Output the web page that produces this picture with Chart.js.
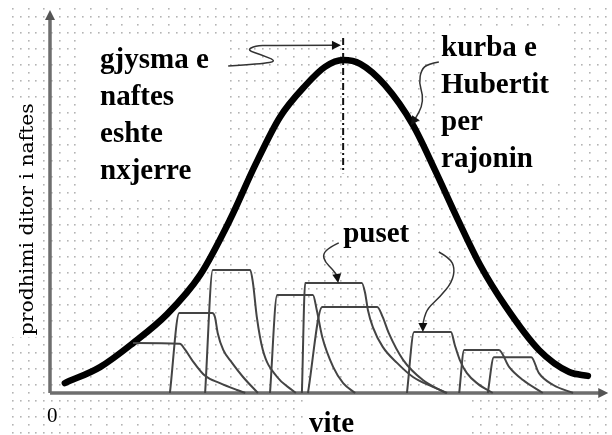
<!DOCTYPE html>
<html><head><meta charset="utf-8">
<script src="https://cdn.jsdelivr.net/npm/chart.js@4"></script>
<style>html,body{margin:0;padding:0;background:#fff}canvas{display:block}</style>
</head><body><canvas id="c" width="612" height="435"></canvas>
<script>
// ---- Data (x = years, arbitrary units 0..100; y = daily production, 0..100) ----
const hubX = [2.7, 9.1, 15.1, 21.3, 27.3, 32.7, 37.3, 41.8, 46.5, 50.0, 53.3, 56.4, 60.9, 66.0, 70.0, 74.2, 78.2, 82.9, 88.9, 94.4, 97.8];
const hubY = [2.6, 6.8, 13.1, 20.7, 31.0, 45.4, 59.8, 72.4, 80.8, 85.6, 87.4, 86.4, 80.8, 70.3, 58.5, 45.4, 33.6, 22.6, 11.3, 5.5, 4.5];

const well1X = [15.1, 23.6, 24.5, 25.8, 28.2, 30.9, 34.0, 35.5];
const well1Y = [13.1, 12.9, 11.5, 8.7, 4.5, 2.6, 0.8, 0];
const well2X = [21.8, 23.5, 29.5, 30.0, 30.5, 31.5, 33.1, 35.1, 37.8];
const well2Y = [0, 21.0, 21.0, 19.9, 15.7, 11.3, 7.9, 4.2, 0];
const well3X = [28.2, 29.6, 36.4, 36.9, 37.6, 38.7, 41.3, 44.0, 44.7];
const well3Y = [0, 32.3, 32.3, 28.9, 20.0, 11.3, 4.2, 0.8, 0];
const well4X = [40.0, 41.3, 47.8, 48.5, 49.5, 51.5, 53.3, 55.5];
const well4Y = [0, 25.7, 25.7, 21.8, 14.7, 6.8, 2.6, 0];
const well5X = [45.8, 46.4, 56.7, 57.3, 57.8, 58.7, 60.5, 63.1, 66.0, 69.6, 72.2];
const well5Y = [0, 28.9, 28.9, 26.2, 21.8, 17.3, 12.1, 7.9, 4.2, 1.6, 0];
const well6X = [46.9, 49.5, 59.5, 60.5, 61.6, 64.2, 67.8, 72.0];
const well6Y = [0, 22.6, 22.6, 19.9, 15.7, 8.7, 3.4, 0];
const well7X = [64.9, 66.2, 72.9, 73.6, 74.5, 75.8, 77.8, 80.5];
const well7Y = [0, 16.0, 16.0, 12.6, 8.7, 5.2, 2.4, 0];
const well8X = [74.4, 75.3, 81.6, 83.5, 86.0, 89.6];
const well8Y = [0, 11.3, 11.3, 6.8, 3.4, 0];
const well9X = [79.6, 80.7, 87.5, 88.9, 91.5, 95.1];
const well9Y = [0, 9.4, 9.4, 5.2, 2.1, 0];

// Labels
const yAxisTitle = "prodhimi ditor i naftes";
const xAxisTitle = "vite";
const originTick = "0";
const halfText = ["gjysma e", "naftes", "eshte", "nxjerre"];
const hubbertText = ["kurba e", "Hubertit", "per", "rajonin"];
const wellsText = ["puset"];

// Annotation paths (data coordinates)
const arrowHalfX = [32.4, 38.5, 41.3, 38.5, 35.8, 37.3, 40.0, 52.9];
const arrowHalfY = [85.8, 86.4, 87.1, 88.7, 90.0, 91.1, 91.3, 91.3];
const arrowHubX = [70.7, 68.7, 67.5, 67.1, 67.8, 67.6, 66.5, 65.6];
const arrowHubY = [86.9, 86.4, 84.8, 81.4, 78.2, 75.1, 72.2, 70.3];
const arrowWellAX = [52.5, 50.9, 49.6, 50.0, 51.5, 52.2, 52.4];
const arrowWellAY = [39.4, 38.3, 36.5, 34.4, 32.3, 30.7, 28.9];
const arrowWellBX = [70.7, 72.7, 73.6, 73.1, 70.9, 68.7, 68.0, 67.8, 67.8];
const arrowWellBY = [37.0, 35.4, 32.8, 29.1, 25.2, 22.3, 19.7, 17.8, 16.0];
const peakMarkX = 53.3, peakMarkTop = 93.2, peakMarkBottom = 57.7;
const axisTipX = 101.5, axisTipY = 100.5;

const pts = (xs, ys) => xs.map((x, i) => ({x, y: ys[i]}));
const wells = [[well1X,well1Y],[well2X,well2Y],[well3X,well3Y],[well4X,well4Y],[well5X,well5Y],[well6X,well6Y],[well7X,well7Y],[well8X,well8Y],[well9X,well9Y]];

const datasets = wells.map(([xs, ys], i) => ({
  label: 'pusi ' + (i + 1), data: pts(xs, ys),
  borderColor: '#444', borderWidth: 2, pointRadius: 0,
  cubicInterpolationMode: 'monotone', clip: false, fill: false
}));
datasets.push({
  label: 'kurba e Hubertit', data: pts(hubX, hubY),
  borderColor: '#000', borderWidth: 6.5, pointRadius: 0, borderCapStyle: 'round',
  cubicInterpolationMode: 'monotone', clip: false, fill: false
});

const SERIF = '"Liberation Serif", "Times New Roman", serif';

function smoothPath(ctx, p) {
  ctx.beginPath();
  ctx.moveTo(p[0][0], p[0][1]);
  for (let i = 1; i < p.length - 2; i++) {
    const mx = (p[i][0] + p[i+1][0]) / 2, my = (p[i][1] + p[i+1][1]) / 2;
    ctx.quadraticCurveTo(p[i][0], p[i][1], mx, my);
  }
  const n = p.length;
  if (n > 2) ctx.quadraticCurveTo(p[n-2][0], p[n-2][1], p[n-1][0], p[n-1][1]);
  else ctx.lineTo(p[n-1][0], p[n-1][1]);
  ctx.stroke();
}
function arrowHead(ctx, from, tip, len, half) {
  const a = Math.atan2(tip[1] - from[1], tip[0] - from[0]);
  ctx.beginPath();
  ctx.moveTo(tip[0], tip[1]);
  ctx.lineTo(tip[0] - len*Math.cos(a) + half*Math.sin(a), tip[1] - len*Math.sin(a) - half*Math.cos(a));
  ctx.lineTo(tip[0] - len*Math.cos(a) - half*Math.sin(a), tip[1] - len*Math.sin(a) + half*Math.cos(a));
  ctx.closePath();
  ctx.fill();
}

const deco = {
  id: 'deco',
  beforeDraw(chart) {
    const ctx = chart.ctx, W = chart.width, H = chart.height;
    ctx.save();
    ctx.fillStyle = '#fff'; ctx.fillRect(0, 0, W, H);
    // dotted background grid
    ctx.fillStyle = '#b4b4b4';
    for (let k = 0; 7.5 + 8*k < H; k++) {
      const y = 7.5 + 8*k, step = (k % 2) ? 7.8 : 15.6;
      for (let x = 12; x < W; x += step) ctx.fillRect(Math.round(x), Math.round(y), 1.6, 1.6);
    }
    // text box backgrounds
    ctx.fillStyle = '#fff';
    [[80,40,147,155],[437,32,131,148],[340,222,75,28],[306,400,162,35],[5,100,35,237]].forEach(r => ctx.fillRect(...r));
    ctx.restore();
  },
  beforeDatasetsDraw(chart) {
    const ctx = chart.ctx, xs = chart.scales.x, ys = chart.scales.y;
    const x0 = xs.getPixelForValue(0), y0 = ys.getPixelForValue(0);
    const yt = ys.getPixelForValue(axisTipY), xt = xs.getPixelForValue(axisTipX);
    ctx.save();
    ctx.strokeStyle = '#6e6e6e'; ctx.fillStyle = '#555'; ctx.lineWidth = 3.5;
    ctx.beginPath(); ctx.moveTo(x0, y0); ctx.lineTo(x0, yt + 8); ctx.stroke();
    ctx.beginPath(); ctx.moveTo(x0, y0); ctx.lineTo(xt - 8, y0); ctx.stroke();
    arrowHead(ctx, [x0, y0], [x0, yt], 10, 5);
    arrowHead(ctx, [x0, y0], [xt, y0], 10, 5);
    ctx.restore();
  },
  afterDraw(chart) {
    const ctx = chart.ctx, xs = chart.scales.x, ys = chart.scales.y;
    const P = (x, y) => [xs.getPixelForValue(x), ys.getPixelForValue(y)];
    ctx.save();
    // dash-dot line at the peak
    ctx.strokeStyle = '#111'; ctx.lineWidth = 2; ctx.setLineDash([7, 3, 2, 3]);
    const a = P(peakMarkX, peakMarkTop), b = P(peakMarkX, peakMarkBottom);
    ctx.beginPath(); ctx.moveTo(a[0], a[1]); ctx.lineTo(b[0], b[1]); ctx.stroke();
    ctx.setLineDash([]);
    // arrows
    ctx.strokeStyle = '#333'; ctx.fillStyle = '#111'; ctx.lineWidth = 1.5; ctx.lineJoin = 'round';
    [[arrowHalfX, arrowHalfY], [arrowHubX, arrowHubY], [arrowWellAX, arrowWellAY], [arrowWellBX, arrowWellBY]].forEach(([ax, ay]) => {
      const p = ax.map((x, i) => P(x, ay[i]));
      const n = p.length, tip = p[n-1], prev = p[n-2];
      const ang = Math.atan2(tip[1] - prev[1], tip[0] - prev[0]);
      const body = p.slice(0, -1).concat([[tip[0] - 7*Math.cos(ang), tip[1] - 7*Math.sin(ang)]]);
      smoothPath(ctx, body);
      arrowHead(ctx, prev, tip, 9, 4.5);
    });
    // texts
    ctx.fillStyle = '#000'; ctx.textBaseline = 'alphabetic'; ctx.textAlign = 'left';
    ctx.font = 'bold 29px ' + SERIF;
    const drawBlock = (lines, x, y) => {
      const p = P(x, y);
      lines.forEach((t, i) => ctx.fillText(t, p[0], p[1] + i * 37));
    };
    drawBlock(halfText, 9.1, 85.3);
    drawBlock(hubbertText, 71.1, 88.5);
    drawBlock(wellsText, 53.3, 39.6);
    drawBlock([xAxisTitle], 47.1, -10.2);
    ctx.font = '21px ' + SERIF; ctx.textAlign = 'center';
    const o = P(0.4, -7.6); ctx.fillText(originTick, o[0], o[1]);
    // y axis title
    ctx.font = '19px "DejaVu Serif", serif';
    const w = ctx.measureText(yAxisTitle).width;
    const c = P(-3.1, 45.6);
    ctx.translate(c[0], c[1]); ctx.rotate(-Math.PI / 2);
    ctx.scale(232 / w, 1);
    ctx.fillText(yAxisTitle, 0, 0);
    ctx.restore();
  }
};

new Chart(document.getElementById('c'), {
  type: 'line',
  data: { datasets },
  options: {
    responsive: false, animation: false, devicePixelRatio: 1,
    layout: { padding: { left: 50, right: 12, top: 12, bottom: 42 } },
    scales: {
      x: { type: 'linear', min: 0, max: 100, display: false },
      y: { type: 'linear', min: 0, max: 100, display: false }
    },
    plugins: { legend: { display: false }, tooltip: { enabled: false } }
  },
  plugins: [deco]
});
</script></body></html>
